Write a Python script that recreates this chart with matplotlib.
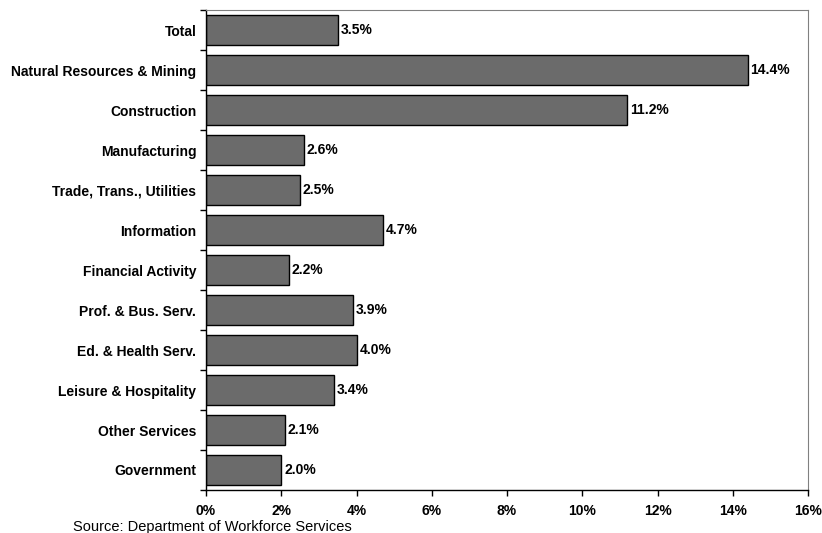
import matplotlib.pyplot as plt
from matplotlib.ticker import FuncFormatter

categories = ['Total', 'Natural Resources & Mining', 'Construction', 'Manufacturing',
              'Trade, Trans., Utilities', 'Information', 'Financial Activity',
              'Prof. & Bus. Serv.', 'Ed. & Health Serv.', 'Leisure & Hospitality',
              'Other Services', 'Government']
growth = [3.5, 14.4, 11.2, 2.6, 2.5, 4.7, 2.2, 3.9, 4.0, 3.4, 2.1, 2.0]

plt.rcParams['font.family'] = ['Liberation Sans', 'DejaVu Sans']

fig = plt.figure(figsize=(8.22, 5.33), dpi=100)
ax = fig.add_axes([0.2506, 0.0807, 0.7324, 0.9003])

pos = list(range(len(categories)))
ax.barh(pos, growth, height=0.75, color='#6b6b6b', edgecolor='black', linewidth=1)

for i, v in enumerate(growth):
    ax.annotate(f"{v:.1f}%", (v, i), xytext=(2, 0), textcoords='offset points',
                ha='left', va='center', fontsize=10, fontweight='bold')

ax.set_xlim(0, 16)
ax.set_ylim(len(categories) - 0.5, -0.5)
ax.set_xticks(range(0, 17, 2))
ax.xaxis.set_major_formatter(FuncFormatter(lambda x, p: f"{x:.0f}%"))
ax.set_yticks(pos)
ax.set_yticklabels(categories)
ax.set_yticks([p + 0.5 for p in pos[:-1]] + [-0.5, len(categories) - 0.5], minor=True)

ax.tick_params(axis='y', which='major', length=0, pad=7)
ax.tick_params(axis='y', which='minor', length=4, width=1, direction='out')
ax.tick_params(axis='x', length=4, width=1, direction='out', pad=6)
for lab in ax.get_xticklabels() + ax.get_yticklabels():
    lab.set_fontsize(10)
    lab.set_fontweight('bold')

ax.spines['top'].set_color('#808080')
ax.spines['right'].set_color('#808080')
ax.spines['left'].set_linewidth(1)
ax.spines['bottom'].set_linewidth(1)

fig.text(73 / 822, 1 - 527 / 533, 'Source: Department of Workforce Services',
         fontsize=10.5, va='center', ha='left')

fig.savefig('out.png', dpi=100)
